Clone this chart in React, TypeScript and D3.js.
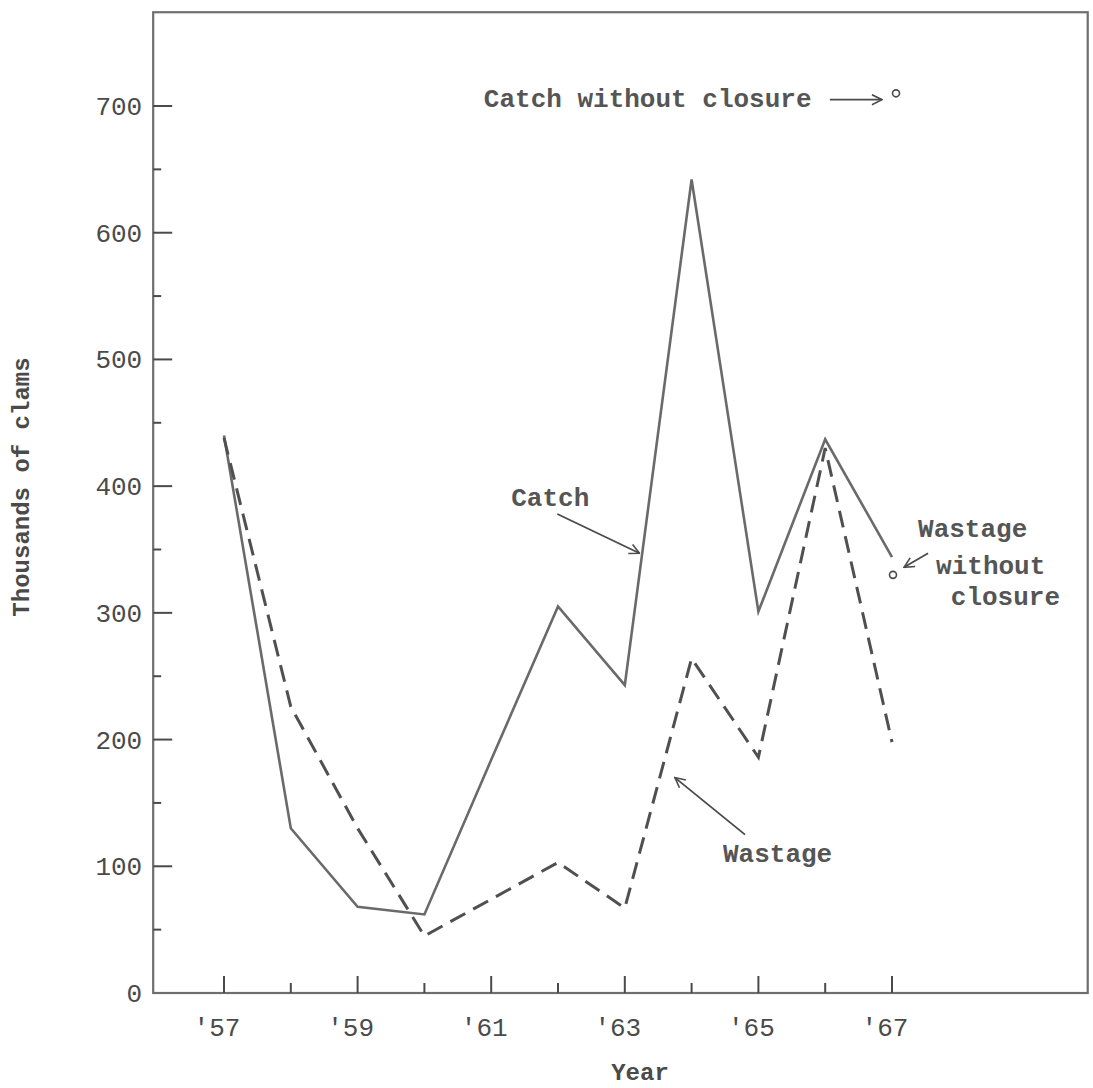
import React, { useEffect } from 'react';
import * as d3 from 'd3';

// years on the x axis ('57 .. '67)
const years = [57, 58, 59, 60, 61, 62, 63, 64, 65, 66, 67];
// thousands of clams
const catchValues = [440, 130, 68, 62, 184, 305, 243, 642, 301, 437, 344];
const wastageValues = [438, 226, 130, 45, 74, 103, 67, 264, 186, 430, 198];
// single points shown as small circles
const withoutClosureYears = [67, 67];
const withoutClosureValues = [710, 330];

const yTicks = [0, 100, 200, 300, 400, 500, 600, 700];
const yMinorTicks = [50, 150, 250, 350, 450, 550, 650];
const xLabelYears = [57, 59, 61, 63, 65, 67];
const xLabels = ["'57", "'59", "'61", "'63", "'65", "'67"];

const W = 1093;
const H = 1088;
const font = '"Liberation Mono", "DejaVu Sans Mono", monospace';
const ink = '#4a4a4a';

const App: React.FC = () => {
  useEffect(() => {
    document.body.style.margin = '0';
  }, []);

  const x = d3.scaleLinear().domain([57, 67]).range([224, 892]);
  const y = d3.scaleLinear().domain([0, 700]).range([993, 106]);

  const left = x(55.94);
  const right = x(69.93);
  const top = y(774);
  const bottom = y(0);

  const line = d3
    .line<number>()
    .x((_d, i) => x(years[i]))
    .y((d) => y(d));

  const arrow = (x1: number, v1: number, x2: number, v2: number) =>
    `M${x(x1)},${y(v1)}L${x(x2)},${y(v2)}`;

  return (
    <svg
      width={W}
      height={H}
      viewBox={`0 0 ${W} ${H}`}
      style={{ position: 'absolute', left: 0, top: 0, background: '#fff' }}
    >
      <defs>
        <marker
          id="head"
          viewBox="0 0 12 12"
          refX="11"
          refY="6"
          markerWidth="12"
          markerHeight="12"
          markerUnits="userSpaceOnUse"
          orient="auto"
        >
          <path d="M1,1 L11,6 L1,11" fill="none" stroke={ink} strokeWidth={1.6} />
        </marker>
      </defs>

      {/* frame */}
      <rect
        x={left}
        y={top}
        width={right - left}
        height={bottom - top}
        fill="none"
        stroke="#6e6e6e"
        strokeWidth={2.2}
      />

      {/* y ticks */}
      {yTicks.map((t) => (
        <g key={'y' + t}>
          <line x1={left} x2={left + (t === 0 ? 0 : 19)} y1={y(t)} y2={y(t)} stroke={ink} strokeWidth={2} />
          <text
            x={left - 11}
            y={y(t) + 9}
            textAnchor="end"
            fontFamily={font}
            fontSize={26}
            fill={ink}
          >
            {t}
          </text>
        </g>
      ))}
      {yMinorTicks.map((t) => (
        <line key={'ym' + t} x1={left} x2={left + 8} y1={y(t)} y2={y(t)} stroke={ink} strokeWidth={2} />
      ))}

      {/* x ticks */}
      {years.map((yr) => (
        <line
          key={'x' + yr}
          x1={x(yr)}
          x2={x(yr)}
          y1={bottom}
          y2={bottom - (yr % 2 === 1 ? 17 : 10)}
          stroke={ink}
          strokeWidth={2}
        />
      ))}
      {xLabelYears.map((yr, i) => (
        <text
          key={'xl' + yr}
          x={x(yr) - 7}
          y={1036}
          textAnchor="middle"
          fontFamily={font}
          fontSize={26}
          fill={ink}
        >
          {xLabels[i]}
        </text>
      ))}

      {/* axis titles */}
      <text x={640} y={1080} textAnchor="middle" fontFamily={font} fontSize={24} fontWeight="bold" fill={ink}>
        Year
      </text>
      <text
        transform={`translate(29,487) rotate(-90)`}
        textAnchor="middle"
        fontFamily={font}
        fontSize={24}
        fontWeight="bold"
        fill={ink}
      >
        Thousands of clams
      </text>

      {/* catch */}
      <path d={line(catchValues) || ''} fill="none" stroke="#6a6a6a" strokeWidth={2.6} strokeLinejoin="miter" />
      {/* wastage */}
      <path
        d={line(wastageValues) || ''}
        fill="none"
        stroke="#505050"
        strokeWidth={3}
        strokeDasharray="17 9"
      />

      {/* without closure points */}
      {withoutClosureValues.map((v, i) => (
        <circle
          key={'c' + i}
          cx={x(withoutClosureYears[i]) + (i === 0 ? 4 : 1)}
          cy={y(v)}
          r={3.5}
          fill="#fff"
          stroke={ink}
          strokeWidth={1.6}
        />
      ))}

      {/* annotations */}
      <g fontFamily={font} fontSize={26} fontWeight="bold" fill="#555">
        <text x={x(60.89)} y={y(699)}>Catch without closure</text>
        <text x={x(61.3)} y={y(384)}>Catch</text>
        <text x={x(64.47)} y={y(103)}>Wastage</text>
        <text x={x(67.39)} y={y(360)}>Wastage</text>
        <text x={x(67.66)} y={y(331)}>without</text>
        <text x={x(67.88)} y={y(306)}>closure</text>
      </g>
      <g fill="none" stroke={ink} strokeWidth={1.8} markerEnd="url(#head)">
        <path d={arrow(66.07, 705, 66.85, 705)} />
        <path d={arrow(61.99, 378, 63.22, 347)} />
        <path d={arrow(64.8, 125, 63.75, 170)} />
        <path d={arrow(67.54, 347, 67.18, 336)} />
      </g>
    </svg>
  );
};

export default App;
